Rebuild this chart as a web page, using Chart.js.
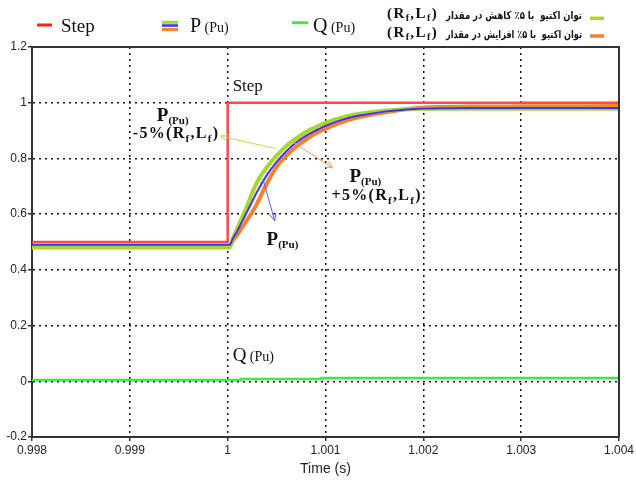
<!DOCTYPE html>
<html>
<head>
<meta charset="utf-8">
<script src="https://cdn.jsdelivr.net/npm/chart.js@4.4.1/dist/chart.umd.min.js"></script>
<style>
  html, body { margin: 0; padding: 0; background: #fff; }
  #wrap { width: 636px; height: 484px; }
</style>
</head>
<body>
<div id="wrap"><canvas id="c" width="636" height="484"></canvas></div>
<script>
// ---- axis ticks ----
const xTicks = [0.998, 0.999, 1.0, 1.001, 1.002, 1.003, 1.004];
const xTickLabels = ['0.998', '0.999', '1', '1.001', '1.002', '1.003', '1.004'];
const yTicks = [-0.2, 0, 0.2, 0.4, 0.6, 0.8, 1.0, 1.2];
const yTickLabels = ['-0.2', '0', '0.2', '0.4', '0.6', '0.8', '1', '1.2'];

// ---- reference step (pu) ----
const stepTime = [0.998, 1.0, 1.0, 1.004];
const stepValue = [0.5, 0.5, 1.0, 1.0];

// ---- active power responses (pu) ----
const pTime = [0.998, 1.0, 1.00002, 1.00005, 1.0001, 1.00015, 1.0002, 1.00025, 1.0003,
               1.0004, 1.0005, 1.0006, 1.0007, 1.0008, 1.0009, 1.001, 1.0012, 1.0014,
               1.0016, 1.0018, 1.002, 1.0025, 1.003, 1.004];
const pNominal = [0.49, 0.49, 0.49, 0.51, 0.54, 0.575, 0.61, 0.645, 0.68,
                  0.74, 0.788, 0.826, 0.857, 0.881, 0.9, 0.917, 0.942, 0.957,
                  0.968, 0.975, 0.979, 0.981, 0.981, 0.981];
const pMinus5 = [0.48, 0.48, 0.48, 0.51, 0.55, 0.59, 0.63, 0.675, 0.715,
                 0.768, 0.81, 0.845, 0.872, 0.895, 0.912, 0.928, 0.95, 0.963,
                 0.971, 0.976, 0.978, 0.978, 0.978, 0.978];
const pPlus5 = [0.486, 0.486, 0.486, 0.503, 0.527, 0.553, 0.58, 0.607, 0.638,
                0.71, 0.77, 0.81, 0.842, 0.868, 0.89, 0.907, 0.934, 0.952,
                0.965, 0.976, 0.983, 0.986, 0.987, 0.988];

// ---- reactive power (pu) ----
const qTime = [0.998, 1.00014, 1.00014, 1.00096, 1.00096, 1.004];
const qValue = [0.005, 0.005, 0.008, 0.008, 0.012, 0.012];

const pts = (xs, ys) => xs.map((x, i) => ({ x: x, y: ys[i] }));

const RED = '#ff4848', BLUE = '#3636ff', LIME = '#a8d62c', ORANGE = '#ff7f2a', QGREEN = '#3ced3c';
const SERIF = '"Liberation Serif", "Times New Roman", serif';
const SANS = '"Liberation Sans", Arial, sans-serif';

// annotation placement in data units (time, pu)
const notes = {
  arrows: [
    { from: [1.000497, 0.835], to: [0.9999255, 0.880], color: '#b8e255' },
    { from: [1.000666, 0.859], to: [1.001074, 0.766], color: '#ff9a5a' },
    { from: [1.00036, 0.727], to: [1.00048, 0.577], color: '#5a5aff' }
  ],
  stepLabel: [1.000051, 1.041],
  pUpper: [0.9992755, 0.933],
  minusLabel: [0.9990306, 0.872],
  pRight: [1.0012449, 0.717],
  plusLabel: [1.0010612, 0.652],
  pLower: [1.000398, 0.49],
  qLabel: [1.000051, 0.072]
};

function runs(ctx, x, y, parts, spacing) {
  let cx = x;
  ctx.letterSpacing = (spacing || 0) + 'px';
  for (const p of parts) {
    ctx.font = p.font;
    ctx.fillText(p.t, cx, y + (p.dy || 0));
    cx += ctx.measureText(p.t).width;
  }
  ctx.letterSpacing = '0px';
}

function rfLf(prefix, size, subSize, sub) {
  const b = 'bold ' + size + 'px ' + SERIF, s = 'bold ' + subSize + 'px ' + SERIF;
  return [
    { t: prefix + '(', font: b }, { t: 'R', font: b }, { t: 'f', font: s, dy: sub },
    { t: ',', font: b }, { t: 'L', font: b }, { t: 'f', font: s, dy: sub }, { t: ')', font: b }
  ];
}

function pPu(size, subSize) {
  return [
    { t: 'P', font: 'bold ' + size + 'px ' + SERIF },
    { t: '(Pu)', font: 'bold ' + subSize + 'px ' + SERIF, dy: 3 }
  ];
}

function arrow(ctx, x1, y1, x2, y2, color) {
  ctx.save();
  ctx.strokeStyle = color;
  ctx.lineWidth = 1;
  ctx.beginPath();
  ctx.moveTo(x1, y1);
  ctx.lineTo(x2, y2);
  const a = Math.atan2(y2 - y1, x2 - x1), L = 8, w = 0.45;
  ctx.moveTo(x2 - L * Math.cos(a - w), y2 - L * Math.sin(a - w));
  ctx.lineTo(x2, y2);
  ctx.lineTo(x2 - L * Math.cos(a + w), y2 - L * Math.sin(a + w));
  ctx.stroke();
  ctx.restore();
}

const overlay = {
  id: 'overlay',
  afterDraw(chart) {
    const ctx = chart.ctx, xs = chart.scales.x, ys = chart.scales.y, ca = chart.chartArea;
    const px = p => [xs.getPixelForValue(p[0]), ys.getPixelForValue(p[1])];
    ctx.save();

    // plot frame (top and right edges)
    ctx.strokeStyle = '#333';
    ctx.lineWidth = 2;
    ctx.beginPath();
    ctx.moveTo(ca.left, ca.top);
    ctx.lineTo(ca.right, ca.top);
    ctx.lineTo(ca.right, ca.bottom);
    ctx.stroke();

    // arrows
    for (const a of notes.arrows) {
      const f = px(a.from), t = px(a.to);
      arrow(ctx, f[0], f[1], t[0], t[1], a.color);
    }

    ctx.fillStyle = '#111';
    ctx.textBaseline = 'alphabetic';
    ctx.textAlign = 'left';

    // in-plot labels
    let p = px(notes.stepLabel);
    runs(ctx, p[0], p[1], [{ t: 'Step', font: '17px ' + SERIF }]);
    p = px(notes.pUpper);
    runs(ctx, p[0], p[1], pPu(19, 11));
    p = px(notes.minusLabel);
    runs(ctx, p[0], p[1], rfLf('-5%', 16, 11, 4), 1.3);
    p = px(notes.pRight);
    runs(ctx, p[0], p[1], pPu(19, 11));
    p = px(notes.plusLabel);
    runs(ctx, p[0], p[1], rfLf('+5%', 16, 11, 4), 1.3);
    p = px(notes.pLower);
    runs(ctx, p[0], p[1], pPu(19, 11));
    p = px(notes.qLabel);
    runs(ctx, p[0], p[1], [{ t: 'Q', font: '19px ' + SERIF }, { t: ' (Pu)', font: '14px ' + SERIF }]);

    // ---- legend row ----
    const bar = (x1, x2, y, c, h) => { ctx.fillStyle = c; ctx.fillRect(x1, y - h / 2, x2 - x1, h); };
    bar(37, 52, 25, '#ff2020', 3);
    ctx.fillStyle = '#111';
    runs(ctx, 61, 32, [{ t: 'Step', font: '19px ' + SERIF }]);

    bar(162, 178, 22.3, LIME, 3);
    bar(162, 178, 25.5, BLUE, 2.5);
    bar(162, 178, 29.6, ORANGE, 3);
    ctx.fillStyle = '#111';
    runs(ctx, 190, 32, [{ t: 'P', font: '20px ' + SERIF }, { t: ' (Pu)', font: '14px ' + SERIF }]);

    bar(292, 308, 22.7, QGREEN, 3);
    ctx.fillStyle = '#111';
    runs(ctx, 313, 32, [{ t: 'Q', font: '20px ' + SERIF }, { t: ' (Pu)', font: '14px ' + SERIF }]);

    // Persian legend entries with (Rf,Lf)
    const fa = [
      { text: 'توان اکتیو  با ۵٪ کاهش در مقدار', y: 19, sw: 18.3, c: LIME },
      { text: 'توان اکتیو  با ۵٪ افزایش در مقدار', y: 37.5, sw: 36, c: ORANGE }
    ];
    for (const e of fa) {
      ctx.save();
      ctx.font = 'bold 11px "DejaVu Sans", "Noto Sans", sans-serif';
      const w = ctx.measureText(e.text).width;
      const target = 136;
      ctx.translate(582, e.y);
      ctx.scale(target / w, 1);
      ctx.direction = 'rtl';
      ctx.textAlign = 'right';
      ctx.fillStyle = '#111';
      ctx.fillText(e.text, 0, 0);
      ctx.restore();
      ctx.fillStyle = '#111';
      ctx.textAlign = 'left';
      runs(ctx, 387, e.y - 1, rfLf('', 15, 10, 3), 1.4);
      bar(590, 604, e.sw, e.c, 3.5);
    }
    ctx.restore();
  }
};

const tickFont = { family: SANS, size: 12 };

new Chart(document.getElementById('c'), {
  type: 'line',
  data: {
    datasets: [
      { label: 'Step', data: pts(stepTime, stepValue), borderColor: RED, borderWidth: 2.5, tension: 0 },
      { label: 'Q (Pu)', data: pts(qTime, qValue), borderColor: QGREEN, borderWidth: 2.5, tension: 0 },
      { label: 'P (Pu)', data: pts(pTime, pNominal), borderColor: BLUE, borderWidth: 2, cubicInterpolationMode: 'monotone' },
      { label: 'P -5%', data: pts(pTime, pMinus5), borderColor: LIME, borderWidth: 4, cubicInterpolationMode: 'monotone' },
      { label: 'P +5%', data: pts(pTime, pPlus5), borderColor: ORANGE, borderWidth: 4, cubicInterpolationMode: 'monotone' }
    ]
  },
  options: {
    responsive: false,
    animation: false,
    parsing: false,
    elements: { point: { radius: 0 }, line: { fill: false, borderCapStyle: 'butt' } },
    layout: { padding: { top: 47, right: 16, left: 0, bottom: 0 } },
    plugins: { legend: { display: false }, tooltip: { enabled: false } },
    scales: {
      x: {
        type: 'linear', min: 0.998, max: 1.004,
        afterBuildTicks: s => { s.ticks = xTicks.map(v => ({ value: v })); },
        afterFit: s => { s.height = 47; },
        ticks: { callback: (v, i) => xTickLabels[i], font: tickFont, color: '#222', padding: 2, maxRotation: 0, autoSkip: false },
        grid: { color: '#111', lineWidth: 1.5, tickLength: 4, tickColor: '#333', tickWidth: 1.5 },
        border: { dash: [2, 4], color: '#333', width: 2 },
        title: { display: true, text: 'Time (s)', font: { family: SANS, size: 14 }, color: '#222', padding: { top: 0, bottom: 6 } }
      },
      y: {
        type: 'linear', min: -0.2, max: 1.2,
        afterBuildTicks: s => { s.ticks = yTicks.map(v => ({ value: v })); },
        afterFit: s => { s.width = 32; },
        ticks: { callback: (v, i) => yTickLabels[i], font: tickFont, color: '#222', padding: 1, autoSkip: false },
        grid: { color: '#111', lineWidth: 1.5, tickLength: 4, tickColor: '#333', tickWidth: 1.5 },
        border: { dash: [2, 4], color: '#333', width: 2 }
      }
    }
  },
  plugins: [overlay]
});
</script>
</body>
</html>
